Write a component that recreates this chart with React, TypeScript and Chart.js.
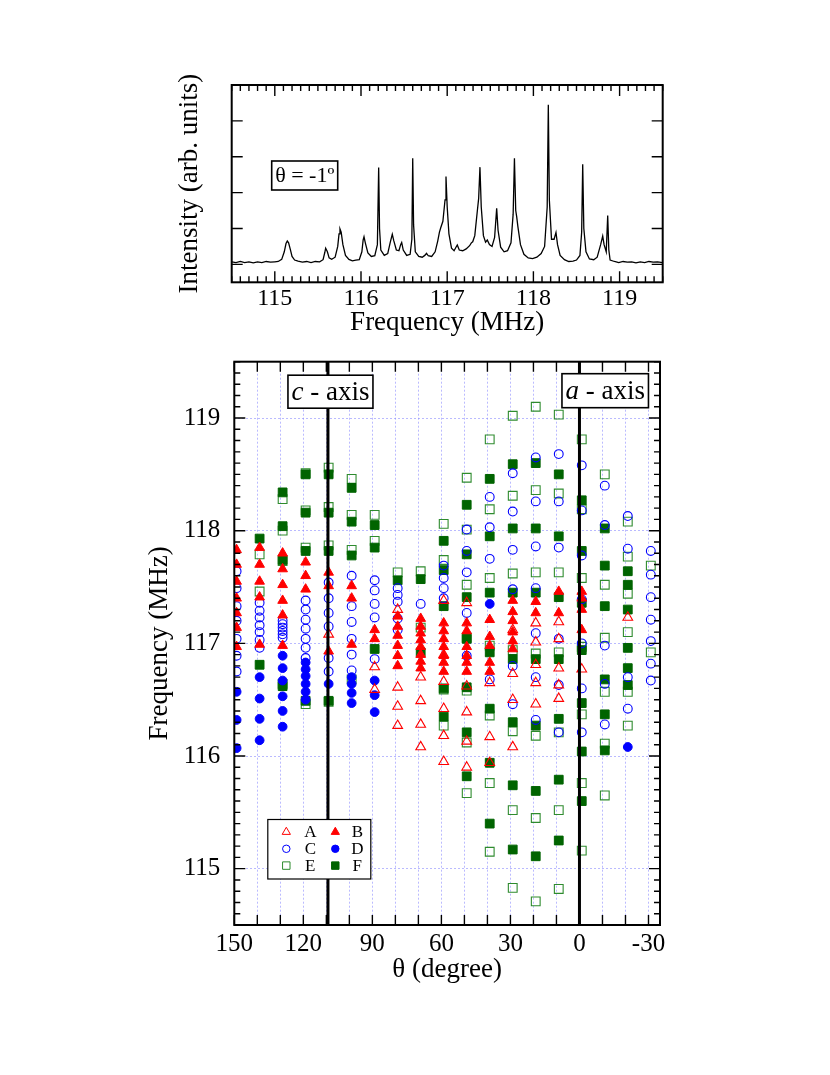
import React, { useEffect, useRef } from 'react';
import { Chart, registerables } from 'chart.js';
Chart.register(...registerables);

const FONT = '"Liberation Serif", "Times New Roman", serif';

// ---------- Top panel: NMR spectrum at theta = -1 deg ----------
const SPEC_FREQ = [
  114.50, 114.55, 114.60, 114.65, 114.70, 114.75, 114.80, 114.85, 114.90, 114.95,
  115.00, 115.04, 115.08, 115.11, 115.13, 115.145, 115.16, 115.18, 115.20, 115.23,
  115.27, 115.32, 115.37, 115.42, 115.47, 115.52, 115.56, 115.58, 115.59, 115.61,
  115.63, 115.66, 115.70, 115.73, 115.745, 115.756, 115.77, 115.79, 115.82, 115.86,
  115.90, 115.94, 115.98, 116.01, 116.025, 116.035, 116.05, 116.08, 116.12, 116.16,
  116.19, 116.205, 116.215, 116.23, 116.27, 116.31, 116.34, 116.363, 116.38, 116.41,
  116.44, 116.46, 116.472, 116.49, 116.53, 116.57, 116.59, 116.60, 116.61, 116.63,
  116.67, 116.71, 116.74, 116.76, 116.78, 116.82, 116.86, 116.89, 116.91, 116.925,
  116.95, 116.975, 116.986, 117.00, 117.02, 117.05, 117.08, 117.10, 117.117, 117.14,
  117.18, 117.22, 117.26, 117.28, 117.296, 117.32, 117.35, 117.365, 117.38, 117.395,
  117.42, 117.445, 117.465, 117.49, 117.52, 117.55, 117.574, 117.59, 117.62, 117.66,
  117.70, 117.74, 117.765, 117.78, 117.795, 117.806, 117.82, 117.85, 117.89, 117.94,
  117.99, 118.04, 118.09, 118.13, 118.16, 118.173, 118.185, 118.21, 118.24, 118.262,
  118.28, 118.31, 118.36, 118.41, 118.46, 118.50, 118.54, 118.56, 118.572, 118.585,
  118.61, 118.65, 118.70, 118.74, 118.78, 118.804, 118.82, 118.845, 118.862, 118.875,
  118.89, 118.94, 118.99, 119.04, 119.09, 119.14, 119.19, 119.24, 119.29, 119.34,
  119.39, 119.44, 119.50,
];
const SPEC_INT = [
  0.07, 0.05, 0.08, 0.05, 0.07, 0.04, 0.07, 0.05, 0.08, 0.06,
  0.07, 0.08, 0.14, 0.35, 0.58, 0.65, 0.60, 0.42, 0.22, 0.12,
  0.09, 0.06, 0.08, 0.05, 0.08, 0.07, 0.13, 0.33, 0.45, 0.35,
  0.18, 0.14, 0.20, 0.50, 0.85, 0.99, 0.90, 0.55, 0.25, 0.14,
  0.10, 0.12, 0.13, 0.35, 0.68, 0.77, 0.60, 0.32, 0.22, 0.24,
  0.55, 2.70, 1.00, 0.40, 0.25, 0.30, 0.62, 0.84, 0.66, 0.40,
  0.38, 0.55, 0.61, 0.40, 0.25, 0.28, 0.70, 2.96, 1.10, 0.35,
  0.22, 0.20, 0.25, 0.31, 0.24, 0.22, 0.35, 0.65, 0.90, 1.02,
  1.20, 1.80, 2.45, 1.60, 0.85, 0.45, 0.38, 0.47, 0.54, 0.40,
  0.38, 0.43, 0.52, 0.60, 0.63, 0.80, 1.50, 1.84, 2.71, 1.60,
  0.80, 0.62, 0.68, 0.55, 0.50, 0.75, 1.56, 0.95, 0.48, 0.35,
  0.38, 0.60, 1.40, 2.96, 1.50, 1.33, 1.05, 0.55, 0.28, 0.18,
  0.16, 0.20, 0.30, 0.50, 1.60, 4.45, 1.80, 0.70, 0.70, 0.89,
  0.55, 0.25, 0.13, 0.08, 0.09, 0.12, 0.25, 0.90, 2.79, 1.00,
  0.35, 0.15, 0.13, 0.20, 0.55, 0.79, 0.55, 0.35, 1.36, 0.40,
  0.12, 0.08, 0.05, 0.08, 0.06, 0.07, 0.04, 0.07, 0.05, 0.08,
  0.06, 0.07, 0.05,
];
const SPEC_LABEL = 'θ = -1º';
const SPEC_X_TICKS = [115, 116, 117, 118, 119];
const SPEC_Y_TICKS = [0, 1, 2, 3, 4, 5];

// ---------- Bottom panel: angular dependence ----------
const ANGLES = [149, 139, 129, 119, 109, 99, 89, 79, 69, 59, 49, 39, 29, 19, 9, -1, -11, -21, -31];
const THETA_TICKS = [150, 140, 130, 120, 110, 100, 90, 80, 70, 60, 50, 40, 30, 20, 10, 0, -10, -20, -30];
const THETA_LABELS = [150, 120, 90, 60, 30, 0, -30];
const FREQ_TICKS = [115, 116, 117, 118, 119];

const SERIES_A: number[][] = [
  [], [], [], [], [117.08], [], [116.79, 116.59],
  [117.30, 116.61, 116.44, 116.27],
  [116.70, 116.49, 116.28, 116.08],
  [117.38, 116.90, 116.66, 116.42, 116.18, 115.95],
  [117.36, 116.62, 116.39, 116.13, 115.90],
  [116.65, 116.17, 115.94],
  [117.12, 116.73, 116.50, 116.08],
  [117.18, 117.01, 116.81, 116.65, 116.46],
  [117.19, 117.04, 116.78, 116.63, 116.51],
  [116.77], [], [117.23], [],
];
const SERIES_B: number[][] = [
  [117.83, 117.70, 117.55, 117.40, 117.27, 117.14, 116.97],
  [117.85, 117.70, 117.55, 117.41, 116.99],
  [117.80, 117.66, 117.52, 117.38, 117.25, 116.98],
  [117.72, 117.60, 117.48],
  [117.63, 117.51, 116.93],
  [117.51, 117.40, 116.99],
  [117.12, 117.04],
  [117.24, 117.15, 117.07, 116.98, 116.89, 116.80],
  [117.22, 117.15, 117.09, 117.03, 116.97, 116.90, 116.84, 116.78],
  [117.18, 117.11, 117.04, 116.97, 116.89, 116.83, 116.75],
  [117.18, 117.11, 116.97, 116.89, 116.83, 116.75],
  [117.21, 117.06, 116.98, 116.83, 116.75],
  [117.38, 117.28, 117.20, 117.10, 117.02, 116.95],
  [117.37, 117.27],
  [117.46, 117.27],
  [117.46, 117.40, 117.30, 117.12],
  [], [], [],
];
const SERIES_C: number[][] = [
  [117.64, 117.49, 117.33, 117.20, 117.04, 116.89, 116.75],
  [117.36, 117.29, 117.23, 117.16, 117.10, 117.03, 116.96],
  [117.20, 117.17, 117.14, 117.11, 117.08, 117.05],
  [117.38, 117.30, 117.21, 117.13, 117.04, 116.96, 116.87],
  [117.54, 117.40, 117.27, 117.15, 116.87, 116.75],
  [117.60, 117.33, 117.19, 117.04, 116.90, 116.76],
  [117.56, 117.47, 117.35, 117.23, 116.86],
  [117.49, 117.43, 117.37, 117.22, 117.12],
  [117.35],
  [117.69, 117.58, 117.49, 117.40],
  [118.01, 117.82, 117.63, 117.27, 116.89],
  [118.30, 118.03, 117.75, 116.68],
  [118.51, 118.17, 117.83, 117.48, 116.80, 116.46],
  [118.65, 118.26, 117.86, 117.49, 117.09, 116.70, 116.32],
  [118.68, 118.26, 117.85, 117.04, 116.63, 116.21],
  [118.58, 118.18, 117.78, 117.39, 117.00, 116.60, 116.21],
  [118.40, 118.05, 116.98, 116.64, 116.28],
  [118.13, 117.84, 116.70, 116.42],
  [117.82, 117.61, 117.41, 117.21, 117.02, 116.82, 116.67],
];
const SERIES_D: number[][] = [
  [116.57, 116.32, 116.07],
  [116.70, 116.51, 116.33, 116.14],
  [116.89, 116.78, 116.67, 116.53, 116.40, 116.26],
  [116.83, 116.77, 116.71, 116.64, 116.57, 116.50],
  [116.64],
  [116.70, 116.64, 116.56, 116.47],
  [116.67, 116.54, 116.39],
  [], [], [], [],
  [117.35],
  [], [], [], [], [],
  [116.08],
  [],
];
const SERIES_E: number[][] = [
  [],
  [117.79, 117.46],
  [118.28, 118.00, 117.73, 116.64],
  [118.51, 118.18, 117.85, 116.46],
  [118.56, 118.21, 117.87, 116.48],
  [118.46, 118.14, 117.83, 116.68],
  [118.14, 117.91],
  [117.63],
  [117.64, 117.14],
  [118.06, 117.74, 116.59, 116.27],
  [118.47, 118.01, 117.52, 117.05, 116.58, 116.12, 115.67],
  [118.81, 118.19, 117.58, 116.98, 116.36, 115.76, 115.15],
  [119.02, 118.31, 117.62, 116.94, 116.22, 115.52, 114.83],
  [119.10, 118.36, 117.63, 116.91, 116.18, 115.45, 114.71],
  [119.03, 118.33, 117.63, 116.92, 116.21, 115.52, 114.82],
  [118.81, 118.19, 117.58, 116.97, 116.37, 115.76, 115.16],
  [118.50, 117.52, 117.05, 116.57, 116.11, 115.65],
  [118.08, 117.77, 117.44, 117.10, 116.57, 116.27],
  [117.69, 116.92],
];
const SERIES_F: number[][] = [
  [],
  [117.93, 116.81],
  [118.34, 118.04, 117.74, 116.62],
  [118.50, 118.16, 117.82, 116.49],
  [118.50, 118.16, 117.82, 116.49],
  [118.38, 118.08, 117.78],
  [118.05, 117.85, 116.95],
  [117.56],
  [117.57, 116.92],
  [117.91, 117.65, 117.33, 116.60, 116.35],
  [118.23, 117.79, 117.41, 117.04, 116.61, 116.21, 115.82],
  [118.46, 117.95, 117.45, 116.92, 116.42, 115.94, 115.40],
  [118.59, 118.02, 117.45, 116.86, 116.30, 115.74, 115.17],
  [118.60, 118.02, 117.45, 116.86, 116.27, 115.69, 115.11],
  [118.50, 117.95, 117.41, 116.86, 116.33, 115.79, 115.25],
  [118.27, 117.82, 117.36, 116.94, 116.47, 116.04, 115.60],
  [118.02, 117.69, 117.33, 116.68, 116.37, 116.05],
  [117.64, 117.52, 117.30, 116.96, 116.78, 116.63],
  [],
];
const SERIES_NAMES = ['A', 'B', 'C', 'D', 'E', 'F'];
const C_AXIS_ANGLE = 109.3;
const A_AXIS_ANGLE = 0;

const RED = '#ff0000';
const BLUE = '#0000ff';
const GREEN_OPEN = '#2e8b2e';
const GREEN_FILL = '#006400';
const CLEAR = 'rgba(0,0,0,0)';

function toPoints(series: number[][]) {
  return ANGLES.flatMap((a, i) => series[i].map((f) => ({ x: a, y: f })));
}

function range(from: number, to: number, step: number) {
  const out: number[] = [];
  const n = Math.round((to - from) / step);
  for (let i = 0; i <= n; i++) out.push(+(from + i * step).toFixed(4));
  return out;
}

type TickSpec = { axis: 'x' | 'y'; values: number[]; len: number };

function framePlugin(id: string, specs: TickSpec[]) {
  return {
    id,
    afterDraw(chart: any) {
      const { ctx, chartArea } = chart;
      const { left, right, top, bottom } = chartArea;
      const xs = chart.scales.x;
      const ys = chart.scales.y;
      ctx.save();
      ctx.strokeStyle = '#000';
      ctx.lineWidth = 1.4;
      ctx.beginPath();
      for (const s of specs) {
        for (const v of s.values) {
          if (s.axis === 'x') {
            const p = xs.getPixelForValue(v);
            if (p < left - 0.5 || p > right + 0.5) continue;
            ctx.moveTo(p, bottom);
            ctx.lineTo(p, bottom - s.len);
            ctx.moveTo(p, top);
            ctx.lineTo(p, top + s.len);
          } else {
            const p = ys.getPixelForValue(v);
            if (p < top - 0.5 || p > bottom + 0.5) continue;
            ctx.moveTo(left, p);
            ctx.lineTo(left + s.len, p);
            ctx.moveTo(right, p);
            ctx.lineTo(right - s.len, p);
          }
        }
      }
      ctx.stroke();
      ctx.lineWidth = 2;
      ctx.strokeRect(left, top, right - left, bottom - top);
      ctx.restore();
    },
  };
}

function drawMarker(ctx: CanvasRenderingContext2D, kind: string, x: number, y: number, r: number, fill: string | null, stroke: string) {
  ctx.beginPath();
  if (kind === 'triangle') {
    for (let k = 0; k < 3; k++) {
      const a = (k * 2 * Math.PI) / 3;
      const px = x + Math.sin(a) * r;
      const py = y - Math.cos(a) * r;
      if (k === 0) ctx.moveTo(px, py);
      else ctx.lineTo(px, py);
    }
    ctx.closePath();
  } else if (kind === 'circle') {
    ctx.arc(x, y, r, 0, Math.PI * 2);
  } else {
    const s = r / Math.SQRT2;
    ctx.rect(x - s, y - s, 2 * s, 2 * s);
  }
  if (fill) {
    ctx.fillStyle = fill;
    ctx.fill();
  }
  ctx.strokeStyle = stroke;
  ctx.lineWidth = 1;
  ctx.stroke();
}

function drawLabelBox(ctx: CanvasRenderingContext2D, x: number, y: number, w: number, h: number, parts: { text: string; italic?: boolean }[], size: number) {
  ctx.save();
  ctx.fillStyle = '#fff';
  ctx.fillRect(x, y, w, h);
  ctx.strokeStyle = '#000';
  ctx.lineWidth = 1.6;
  ctx.strokeRect(x, y, w, h);
  let total = 0;
  const widths = parts.map((p) => {
    ctx.font = `${p.italic ? 'italic ' : ''}${size}px ${FONT}`;
    const m = ctx.measureText(p.text).width;
    total += m;
    return m;
  });
  let cx = x + (w - total) / 2;
  ctx.fillStyle = '#000';
  ctx.textBaseline = 'middle';
  ctx.textAlign = 'left';
  parts.forEach((p, i) => {
    ctx.font = `${p.italic ? 'italic ' : ''}${size}px ${FONT}`;
    ctx.fillText(p.text, cx, y + h / 2 + 1);
    cx += widths[i];
  });
  ctx.restore();
}

const spectrumLabelPlugin = {
  id: 'spectrumLabel',
  afterDraw(chart: any) {
    const { ctx, chartArea } = chart;
    drawLabelBox(ctx, chartArea.left + 40, chartArea.top + 76, 66, 29, [{ text: SPEC_LABEL }], 22);
  },
};

const MARKERS = [
  { kind: 'triangle', r: 5.6, fill: null, stroke: RED },
  { kind: 'triangle', r: 5.6, fill: RED, stroke: RED },
  { kind: 'circle', r: 4.4, fill: null, stroke: BLUE },
  { kind: 'circle', r: 4.4, fill: BLUE, stroke: BLUE },
  { kind: 'rect', r: 6.2, fill: null, stroke: GREEN_OPEN },
  { kind: 'rect', r: 6.2, fill: GREEN_FILL, stroke: GREEN_FILL },
];

const annotationPlugin = {
  id: 'angleAnnotations',
  afterDatasetsDraw(chart: any) {
    const { ctx, chartArea } = chart;
    const xs = chart.scales.x;
    const { top, bottom, left } = chartArea;
    const cx = xs.getPixelForValue(C_AXIS_ANGLE);
    const ax = xs.getPixelForValue(A_AXIS_ANGLE);
    ctx.save();
    ctx.strokeStyle = '#000';
    ctx.lineWidth = 3;
    ctx.beginPath();
    ctx.moveTo(cx, top);
    ctx.lineTo(cx, bottom);
    ctx.moveTo(ax, top);
    ctx.lineTo(ax, bottom);
    ctx.stroke();
    ctx.restore();

    drawLabelBox(ctx, cx - 40, top + 13.5, 85, 33, [{ text: 'c', italic: true }, { text: ' - axis' }], 27);
    drawLabelBox(ctx, ax - 17.5, top + 12, 86.5, 34, [{ text: 'a', italic: true }, { text: ' - axis' }], 27);

    // legend
    const bx = left + 33.5;
    const by = bottom - 105.5;
    ctx.save();
    ctx.fillStyle = '#fff';
    ctx.fillRect(bx, by, 103, 59.5);
    ctx.strokeStyle = '#000';
    ctx.lineWidth = 1.2;
    ctx.strokeRect(bx, by, 103, 59.5);
    ctx.font = `17px ${FONT}`;
    ctx.textBaseline = 'middle';
    ctx.textAlign = 'center';
    SERIES_NAMES.forEach((name, i) => {
      const col = i % 2;
      const row = Math.floor(i / 2);
      const my = by + 12.5 + row * 16.8;
      const mx = bx + 18.5 + col * 49;
      const m = MARKERS[i];
      drawMarker(ctx, m.kind, mx, my, m.r * 0.85, m.fill, m.stroke);
      ctx.fillStyle = '#000';
      ctx.fillText(name, mx + 24 - col * 2, my + 1);
    });
    ctx.restore();
  },
};

const setTicks = (values: number[]) => (s: any) => {
  s.ticks = values.map((v) => ({ value: v }));
};

export default function App() {
  const topRef = useRef<HTMLCanvasElement>(null);
  const botRef = useRef<HTMLCanvasElement>(null);

  useEffect(() => {
    const tickFont = (size: number) => ({ family: FONT, size, lineHeight: 1.2 });
    const titleFont = { family: FONT, size: 27, lineHeight: 1.2 };

    const top = new Chart(topRef.current!, {
      type: 'scatter',
      data: {
        datasets: [
          {
            data: SPEC_FREQ.map((f, i) => ({ x: f, y: SPEC_INT[i] })),
            showLine: true,
            borderColor: '#000',
            borderWidth: 1.3,
            pointRadius: 0,
            tension: 0,
          },
        ],
      },
      options: {
        animation: false,
        responsive: false,
        devicePixelRatio: 1,
        events: [],
        layout: { padding: { left: 0, right: 167.3, top: 85, bottom: 0 } },
        plugins: { legend: { display: false }, tooltip: { enabled: false } },
        scales: {
          x: {
            type: 'linear',
            min: 114.5,
            max: 119.5,
            grid: { display: false, drawTicks: false },
            border: { display: false },
            ticks: { padding: 2, color: '#000', font: tickFont(24), maxRotation: 0, autoSkip: false, callback: (v: any) => String(v) },
            afterBuildTicks: setTicks(SPEC_X_TICKS),
            title: { display: true, text: 'Frequency (MHz)', color: '#000', font: titleFont, padding: { top: 0, bottom: 5.8 } },
            afterFit: (s: any) => { s.height = 62.7; s.paddingLeft = 0; s.paddingRight = 0; },
          },
          y: {
            type: 'linear',
            min: -0.5,
            max: 5,
            grid: { display: false, drawTicks: false },
            border: { display: false },
            ticks: { display: false },
            afterBuildTicks: setTicks(SPEC_Y_TICKS),
            title: { display: true, text: 'Intensity (arb. units)', color: '#000', font: titleFont, padding: { top: 173.8, bottom: 0 } },
            afterFit: (s: any) => { s.width = 231.7; s.paddingTop = 0; s.paddingBottom = 0; },
          },
        },
      } as any,
      plugins: [
        spectrumLabelPlugin,
        framePlugin('frameTop', [
          { axis: 'x', values: range(114.5, 119.5, 0.1), len: 6 },
          { axis: 'x', values: SPEC_X_TICKS, len: 11 },
          { axis: 'y', values: SPEC_Y_TICKS, len: 11 },
        ]),
      ],
    });

    const mk = (label: string, series: number[][], i: number, order: number) => {
      const m = MARKERS[i];
      return {
        label,
        data: toPoints(series),
        pointStyle: m.kind,
        pointRadius: m.r,
        pointBackgroundColor: m.fill ?? CLEAR,
        pointBorderColor: m.stroke,
        pointBorderWidth: m.fill ? 1 : 1.1,
        showLine: false,
        order,
      };
    };

    const bottom = new Chart(botRef.current!, {
      type: 'scatter',
      data: {
        datasets: [
          mk('A', SERIES_A, 0, 0),
          mk('B', SERIES_B, 1, 1),
          mk('C', SERIES_C, 2, 2),
          mk('D', SERIES_D, 3, 3),
          mk('E', SERIES_E, 4, 5),
          mk('F', SERIES_F, 5, 4),
        ],
      },
      options: {
        animation: false,
        responsive: false,
        devicePixelRatio: 1,
        events: [],
        layout: { padding: { left: 0, right: 170, top: 16.7, bottom: 0 } },
        plugins: { legend: { display: false }, tooltip: { enabled: false } },
        scales: {
          x: {
            type: 'linear',
            min: -35,
            max: 150,
            reverse: true,
            grid: { color: 'rgba(140,140,255,0.6)', lineWidth: 1, drawTicks: false },
            border: { display: false, dash: [2, 2] },
            ticks: {
              padding: 4,
              color: '#000',
              font: tickFont(25),
              maxRotation: 0,
              autoSkip: false,
              callback: (v: any) => (THETA_LABELS.includes(Number(v)) ? String(v) : ''),
            },
            afterBuildTicks: setTicks(THETA_TICKS),
            title: { display: true, text: 'θ (degree)', color: '#000', font: titleFont, padding: { top: 0, bottom: 88.8 } },
            afterFit: (s: any) => { s.height = 150; s.paddingLeft = 0; s.paddingRight = 0; },
          },
          y: {
            type: 'linear',
            min: 114.5,
            max: 119.5,
            grid: { color: 'rgba(140,140,255,0.6)', lineWidth: 1, drawTicks: false },
            border: { display: false, dash: [2, 2] },
            ticks: { padding: 14, color: '#000', font: tickFont(25), callback: (v: any) => String(v) },
            afterBuildTicks: setTicks(FREQ_TICKS),
            title: { display: true, text: 'Frequency (MHz)', color: '#000', font: titleFont, padding: { top: 143.8, bottom: 0 } },
            afterFit: (s: any) => { s.width = 234.3; s.paddingTop = 0; s.paddingBottom = 0; },
          },
        },
      } as any,
      plugins: [
        annotationPlugin,
        framePlugin('frameBottom', [
          { axis: 'x', values: THETA_TICKS, len: 10 },
          { axis: 'y', values: range(114.5, 119.5, 0.1), len: 6 },
          { axis: 'y', values: FREQ_TICKS, len: 11 },
        ]),
      ],
    });

    return () => {
      top.destroy();
      bottom.destroy();
    };
  }, []);

  return (
    <div style={{ position: 'absolute', left: 0, top: 0, width: 830, height: 1075, background: '#fff' }}>
      <canvas ref={topRef} width={830} height={345} style={{ position: 'absolute', left: 0, top: 0, width: 830, height: 345 }} />
      <canvas ref={botRef} width={830} height={730} style={{ position: 'absolute', left: 0, top: 345, width: 830, height: 730 }} />
    </div>
  );
}
